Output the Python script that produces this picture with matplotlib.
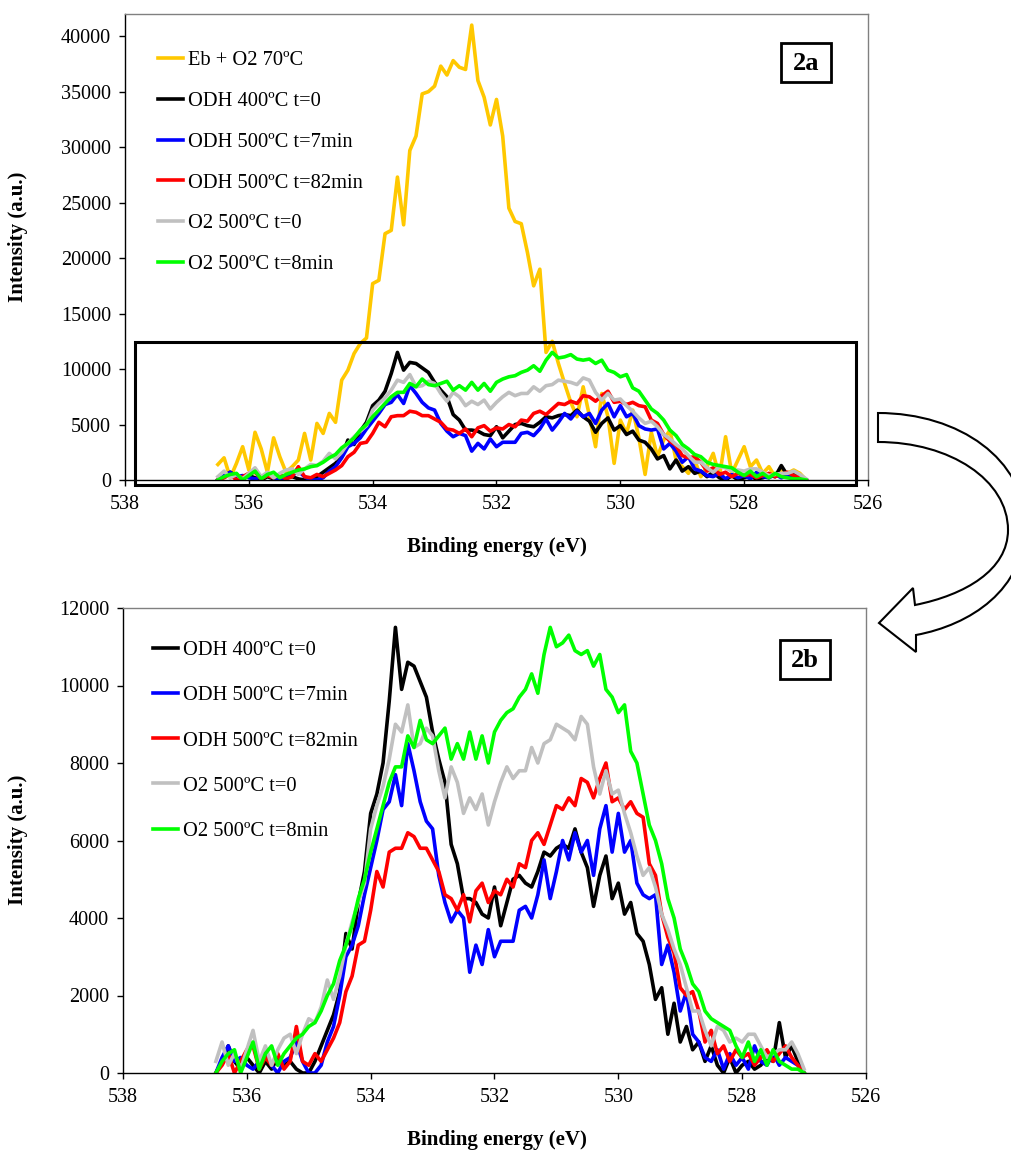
import matplotlib
matplotlib.use("Agg")
import matplotlib.pyplot as plt
from matplotlib.patches import Rectangle, PathPatch
from matplotlib.path import Path

plt.rcParams["font.family"] = ["Liberation Serif", "DejaVu Serif"]

# binding energy grid (eV), high -> low
binding_energy = [
    536.5, 536.4, 536.3, 536.2, 536.1, 536.0, 535.9, 535.8, 535.7, 535.6,
    535.5, 535.4, 535.3, 535.2, 535.1, 535.0, 534.9, 534.8, 534.7, 534.6,
    534.5, 534.4, 534.3, 534.2, 534.1, 534.0, 533.9, 533.8, 533.7, 533.6,
    533.5, 533.4, 533.3, 533.2, 533.1, 533.0, 532.9, 532.8, 532.7, 532.6,
    532.5, 532.4, 532.3, 532.2, 532.1, 532.0, 531.9, 531.8, 531.7, 531.6,
    531.5, 531.4, 531.3, 531.2, 531.1, 531.0, 530.9, 530.8, 530.7, 530.6,
    530.5, 530.4, 530.3, 530.2, 530.1, 530.0, 529.9, 529.8, 529.7, 529.6,
    529.5, 529.4, 529.3, 529.2, 529.1, 529.0, 528.9, 528.8, 528.7, 528.6,
    528.5, 528.4, 528.3, 528.2, 528.1, 528.0, 527.9, 527.8, 527.7, 527.6,
    527.5, 527.4, 527.3, 527.2, 527.1, 527.0,
]

eb_o2_70c = [
    1400, 2000, 200, 1500, 3000, 900, 4300, 2800, 700, 3800, 2100, 700, 1200, 1800, 4200, 1800,
    5100, 4200, 6000, 5200, 9000, 9900, 11400, 12300, 12800, 17700,
    18000, 22200, 22500, 27300, 23000, 29700, 31000, 34800, 35000, 35500,
    37300, 36500, 37800, 37200, 37000, 41000, 36000, 34500, 32000, 34300,
    31000, 24500, 23300, 23100, 20500, 17500, 19000, 11500, 12500, 10500,
    8700, 7000, 5700, 8400, 5800, 3000, 7800, 5700, 1500, 5400,
    4200, 6300, 3800, 500, 4300, 2100, 3600, 4500, 1800, 1200,
    600, 1800, 300, 1200, 2400, 300, 3900, 600, 1800, 3000,
    1200, 1800, 600, 1200, 300, 900, 600, 900, 600, 0,
]

odh_400_t0 = [
    0, 300, 700, 300, 100, 400, 200, 0, 300, 100, 400, 200, 300, 100, 0, 0,
    300, 700, 1100, 1500, 2100, 3600, 3200, 4400, 5200, 6700,
    7200, 8000, 9600, 11500, 9900, 10600, 10500, 10100, 9700, 8800,
    8100, 7500, 5900, 5400, 4500, 4500, 4400, 4100, 4000, 4800,
    3800, 4400, 5000, 5100, 4900, 4800, 5200, 5700, 5600, 5800,
    5900, 5800, 6300, 5700, 5300, 4300, 5100, 5600, 4500, 4900,
    4100, 4400, 3600, 3400, 2800, 1900, 2200, 1000, 1800, 800,
    1200, 600, 800, 300, 700, 200, 0, 400, 0, 200,
    300, 100, 200, 400, 300, 1300, 400, 700, 300, 0,
]

odh_500_t7 = [
    0, 400, 700, 300, 400, 200, 100, 300, 500, 200, 0, 300, 400, 800, 300, 0,
    0, 200, 800, 1200, 2000, 3000, 3300, 3800, 4600, 5300,
    6000, 6800, 7000, 7700, 6900, 8500, 7800, 7000, 6500, 6300,
    5100, 4400, 3900, 4200, 4000, 2600, 3300, 2800, 3700, 3000,
    3400, 3400, 3400, 4200, 4300, 4000, 4600, 5500, 4500, 5200,
    6000, 5500, 6200, 5700, 6000, 5100, 6300, 6900, 5700, 6700,
    5700, 6000, 4900, 4600, 4500, 4600, 2800, 3300, 2600, 1600,
    2100, 1000, 800, 400, 300, 600, 100, 500, 200, 400,
    100, 700, 300, 200, 500, 200, 400, 300, 200, 0,
]

odh_500_t82 = [
    0, 200, 500, 0, 300, 600, 700, 100, 400, 200, 500, 100, 300, 1200, 300, 200,
    500, 300, 600, 900, 1300, 2100, 2500, 3300, 3400, 4200,
    5200, 4800, 5700, 5800, 5800, 6200, 6100, 5800, 5800, 5500,
    5200, 4600, 4500, 4200, 4600, 3900, 4700, 4900, 4400, 4700,
    4600, 5000, 4800, 5400, 5300, 6000, 6200, 5900, 6400, 6900,
    6800, 7100, 6900, 7600, 7500, 7100, 7600, 8000, 7000, 7100,
    6800, 7000, 6700, 6600, 5400, 5100, 4100, 3500, 3100, 2200,
    2000, 2100, 1600, 800, 1100, 500, 700, 300, 600, 400,
    500, 200, 400, 600, 300, 500, 700, 400, 200, 0,
]

o2_500_t0 = [
    300, 800, 200, 500, 100, 600, 1100, 300, 700, 200, 600, 900, 1000, 500, 1000, 1400,
    1300, 1700, 2400, 1900, 2500, 3300, 3900, 4400, 4900, 6300,
    6900, 7400, 8100, 9000, 8800, 9500, 8400, 8500, 8900, 8700,
    7800, 7100, 7900, 7500, 6700, 7100, 6800, 7200, 6400, 7000,
    7500, 7900, 7600, 7800, 7800, 8400, 8000, 8500, 8600, 9000,
    8900, 8800, 8600, 9200, 9000, 7900, 7200, 7800, 7200, 7300,
    6700, 6200, 5600, 5100, 5300, 4800, 4100, 3700, 3200, 2800,
    2200, 1600, 1600, 1100, 700, 1200, 1100, 800, 900, 800,
    1000, 1000, 700, 400, 500, 600, 600, 800, 500, 100,
]

o2_500_t8 = [
    0, 300, 500, 600, 0, 400, 800, 100, 500, 700, 200, 500, 700, 900, 1000, 1200,
    1300, 1600, 2000, 2300, 2900, 3300, 3800, 4500, 5000, 5700,
    6300, 6900, 7500, 7900, 7900, 8700, 8400, 9100, 8600, 8500,
    8700, 8900, 8100, 8500, 8100, 8800, 8100, 8700, 8000, 8800,
    9100, 9300, 9400, 9700, 9900, 10300, 9800, 10800, 11500, 11000,
    11100, 11300, 10900, 10800, 10900, 10500, 10800, 9900, 9700, 9300,
    9500, 8300, 8000, 7200, 6400, 6000, 5400, 4500, 4000, 3200,
    2800, 2300, 2100, 1600, 1400, 1300, 1200, 1100, 700, 400,
    800, 300, 600, 200, 600, 300, 200, 100, 100, 0,
]

series_a = [
    ("Eb + O2 70ºC", eb_o2_70c, "#FFC800"),
    ("ODH 400ºC t=0", odh_400_t0, "#000000"),
    ("ODH 500ºC t=7min", odh_500_t7, "#0000FF"),
    ("ODH 500ºC t=82min", odh_500_t82, "#FF0000"),
    ("O2 500ºC t=0", o2_500_t0, "#C0C0C0"),
    ("O2 500ºC t=8min", o2_500_t8, "#00FF00"),
]
series_b = series_a[1:]

x_ticks = [538, 536, 534, 532, 530, 528, 526]

W, H = 1012, 1151
fig = plt.figure(figsize=(W / 100, H / 100), dpi=100)


def fx(px):
    return px / W


def fy(py):
    return 1 - py / H


def px_axes(left, top, right, bottom):
    return fig.add_axes([fx(left), fy(bottom), (right - left) / W, (bottom - top) / H])


def style_axes(ax, ymax, ystep, ytop):
    ax.set_xlim(538, 526)
    ax.set_xticks(x_ticks)
    ax.set_ylim(0, ytop)
    ax.set_yticks(range(0, ymax + 1, ystep))
    ax.tick_params(direction="out", length=4, width=1, labelsize=14.5, colors="black")
    ax.tick_params(axis="x", pad=7)
    ax.tick_params(axis="y", pad=6)
    for side in ("top", "right"):
        ax.spines[side].set_color("#808080")
    for spine in ax.spines.values():
        spine.set_linewidth(1)


def draw(ax, series):
    for label, values, color in series:
        ax.plot(binding_energy, values, color=color, lw=2.6, label=label,
                solid_joinstyle="round")


# panel 2a
ax_a = px_axes(125, 14, 868, 480)
draw(ax_a, series_a)
style_axes(ax_a, 40000, 5000, 42000)
ax_a.add_patch(Rectangle((537.84, -450), 526.19 - 537.84, 12430 + 450, fill=False,
                         lw=2.2, edgecolor="black", clip_on=False, zorder=5))
ax_a.legend(loc="upper left", bbox_to_anchor=(fx(158), fy(51)), bbox_transform=fig.transFigure,
            frameon=False, fontsize=14.8, handlelength=1.2, handletextpad=0.25,
            labelspacing=1.04, borderpad=0, borderaxespad=0)

# panel 2b
ax_b = px_axes(123, 608, 866, 1073)
draw(ax_b, series_b)
style_axes(ax_b, 12000, 2000, 12000)
ax_b.legend(loc="upper left", bbox_to_anchor=(fx(153), fy(641)), bbox_transform=fig.transFigure,
            frameon=False, fontsize=14.8, handlelength=1.2, handletextpad=0.25,
            labelspacing=1.25, borderpad=0, borderaxespad=0)

# axis titles
for yc in (237, 840):
    fig.text(fx(18), fy(yc), "Intensity (a.u.)", rotation=90, ha="center", va="center",
             fontsize=15, fontweight="bold")
for yc in (547, 1140):
    fig.text(fx(497), fy(yc), "Binding energy (eV)", ha="center", va="center",
             fontsize=15, fontweight="bold")

# panel tags
for tag, (l, t, r, b), base in (("2a", (781, 43, 831, 82), 70), ("2b", (780, 640, 830, 679), 667)):
    fig.add_artist(Rectangle((fx(l), fy(b)), (r - l) / W, (b - t) / H, transform=fig.transFigure,
                             fill=False, lw=2, edgecolor="black"))
    fig.text(fx((l + r) / 2), fy(base), tag, ha="center", va="baseline",
             fontsize=19, fontweight="bold")

# curved block arrow from 2a to 2b
pts = [
    (878, 413),
    (960, 413), (1025, 460), (1025, 525),
    (1025, 590), (970, 625), (916, 635),
    (916, 652), (879, 623), (913, 588), (915, 605),
    (965, 595), (1008, 570), (1008, 530),
    (1008, 480), (950, 442), (878, 442),
    (878, 413),
]
codes = ([Path.MOVETO] + [Path.CURVE4] * 6 + [Path.LINETO] * 4 + [Path.CURVE4] * 6
         + [Path.CLOSEPOLY])
arrow = Path([(fx(x), fy(y)) for x, y in pts], codes)
fig.add_artist(PathPatch(arrow, transform=fig.transFigure, facecolor="white",
                         edgecolor="black", lw=1.5))

fig.savefig("out.png", dpi=100)
